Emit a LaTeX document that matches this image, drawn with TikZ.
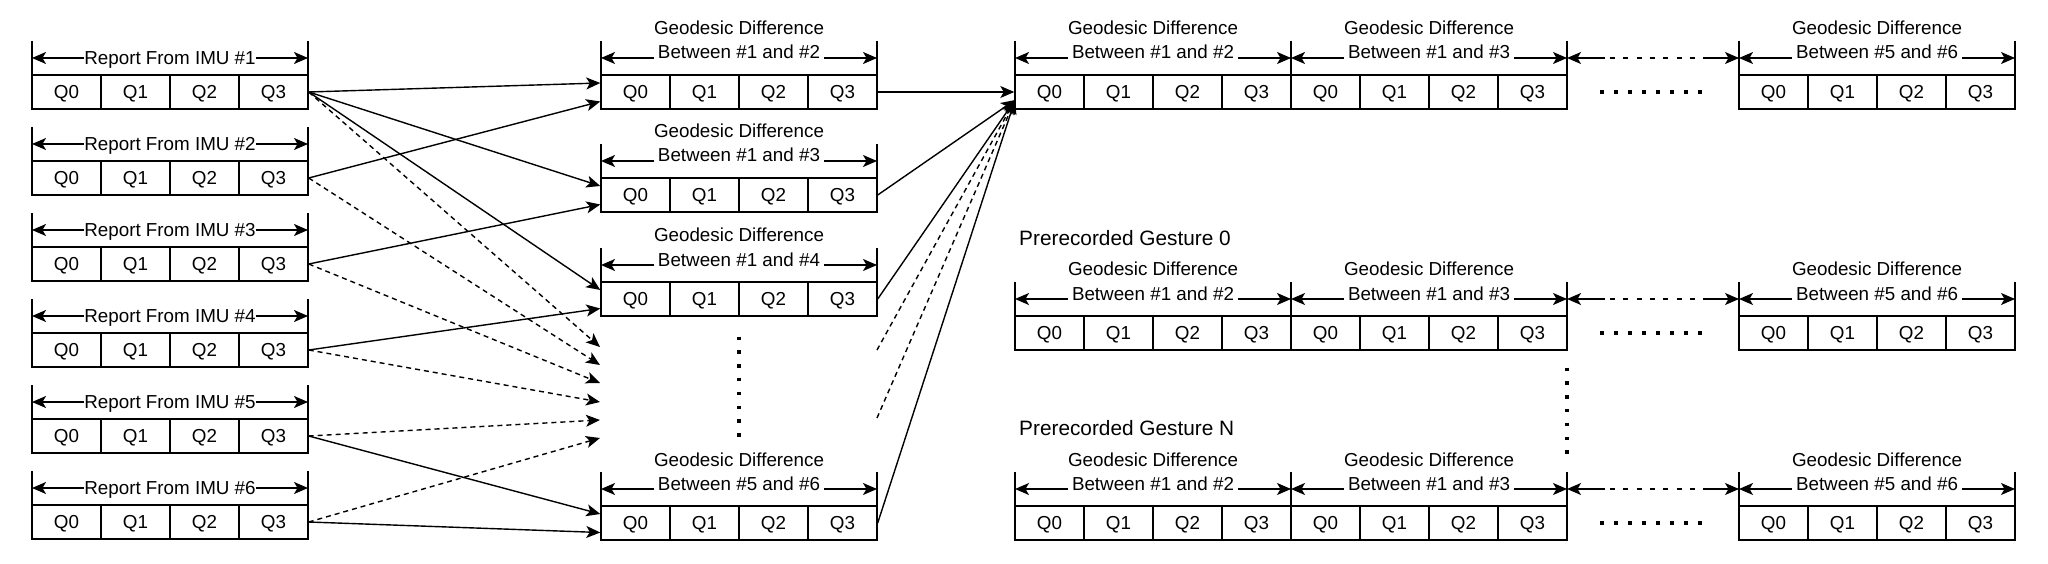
\documentclass[tikz,border=0pt]{standalone}
\usepackage{fontspec}
\setmainfont{Liberation Sans}
\usetikzlibrary{arrows.meta}
\newcommand\lblfont{\fontsize{18.8pt}{24pt}\selectfont}
\newcommand\prefont{\fontsize{20.8pt}{26pt}\selectfont}
\tikzset{
 cell/.style={draw, line width=1.4pt, minimum width=69pt, minimum height=34pt, inner sep=0pt, text height=13.5pt, text depth=0pt, font=\lblfont},
 lbl/.style={inner sep=0pt, text height=13.5pt, text depth=0pt, font=\lblfont},
 prelbl/.style={inner sep=0pt, font=\prefont},
 tickline/.style={line width=1.4pt},
 dimarrow/.style={line width=1.4pt, -{Stealth[length=14pt,width=12pt,inset=3.5pt]}},
 conn/.style={line width=1.4pt, -{Stealth[length=14pt,width=12pt,inset=3.5pt]}},
 dashconn/.style={conn, dash pattern=on 5pt off 4pt},
 dimdash/.style={line width=1.4pt, dash pattern=on 5pt off 8.3pt},
 dotrow/.style={line width=3.5pt, dash pattern=on 3.5pt off 10.5pt},
 dotcol/.style={line width=3.5pt, dash pattern=on 3.5pt off 10.3pt},
}
% cells + ticks: #1 name, #2 x left, #3 top of cells
\newcommand\cellrow[3]{%
  \foreach \k in {0,1,2,3}{\node[cell] (#1-q\k) at ({#2+34.5+69*\k},{#3+17}) {Q\k};}
  \draw[tickline] (#2,#3-34) -- (#2,#3);
  \draw[tickline] (#2+276,#3-34) -- (#2+276,#3);
  \coordinate (#1-L) at (#2,#3-17);
  \coordinate (#1-R) at (#2+276,#3-17);
}
\newcommand\imurow[4]{%
  \cellrow{#1}{#2}{#3}
  \node[lbl] (#1-lbl) at (#2+138,#3-17) {Report From IMU \##4};
  \draw[dimarrow] (#1-lbl.west) -- (#1-L);
  \draw[dimarrow] (#1-lbl.east) -- (#1-R);
}
\newcommand\georow[5]{%
  \cellrow{#1}{#2}{#3}
  \node[lbl, anchor=base] (#1-g1) at (#2+138,#3-40) {Geodesic Difference};
  \node[lbl, anchor=base] (#1-g2) at (#2+138,#3-16) {Between \##4 and \##5};
  \draw[dimarrow] (#1-g1.west |- #1-L) -- (#1-L);
  \draw[dimarrow] (#1-g1.east |- #1-R) -- (#1-R);
}
\newcommand\gesturerow[2]{%
  \georow{#1a}{1015}{#2}{1}{2}
  \georow{#1b}{1291}{#2}{1}{3}
  \georow{#1c}{1739}{#2}{5}{6}
  \draw[dimarrow] ([xshift=38pt]#1b-R) -- (#1b-R);
  \draw[dimarrow] ([xshift=-36pt]#1c-L) -- (#1c-L);
  \draw[dimdash] ([xshift=43pt]#1b-R) -- ([xshift=-38pt]#1c-L);
  \draw[dotrow] (1600.25,#2+17) -- (1703,#2+17);
}
\begin{document}
\begin{tikzpicture}[x=1pt,y=-1pt]
\path[use as bounding box] (0,0) rectangle (2048,564);

% IMU reports
\imurow{imu1}{32}{75}{1}
\imurow{imu2}{32}{161}{2}
\imurow{imu3}{32}{247}{3}
\imurow{imu4}{32}{333}{4}
\imurow{imu5}{32}{419}{5}
\imurow{imu6}{32}{505}{6}

% geodesic differences (middle)
\georow{g12}{601}{75}{1}{2}
\georow{g13}{601}{178}{1}{3}
\georow{g14}{601}{282}{1}{4}
\georow{g56}{601}{506}{5}{6}
\draw[dotcol] (739,336.5) -- (739,437);

% right rows
\gesturerow{R0}{75}
\node[prelbl, anchor=base west] (p0) at (1019,245.5) {Prerecorded Gesture 0};
\gesturerow{G0}{316}
\node[prelbl, anchor=base west] (pN) at (1019,435.5) {Prerecorded Gesture N};
\gesturerow{GN}{506}
\draw[dotcol] (1567,367.5) -- (1567,454);

% solid inputs
\draw[conn] (imu1-q3.east) -- ([yshift=9pt]g12-q0.west);
\draw[conn] (imu2-q3.east) -- ([yshift=-9.5pt]g12-q0.west);
\draw[conn] (imu1-q3.east) -- ([yshift=9pt]g13-q0.west);
\draw[conn] (imu3-q3.east) -- ([yshift=-9.5pt]g13-q0.west);
\draw[conn] (imu1-q3.east) -- ([yshift=9pt]g14-q0.west);
\draw[conn] (imu4-q3.east) -- ([yshift=-9.5pt]g14-q0.west);
\draw[conn] (imu5-q3.east) -- ([yshift=9pt]g56-q0.west);
\draw[conn] (imu6-q3.east) -- ([yshift=-9.5pt]g56-q0.west);

% dashed inputs
\coordinate (d1) at (600,347);
\coordinate (d2) at (600,365);
\coordinate (d3) at (600,383);
\coordinate (d4) at (600,402);
\coordinate (d5) at (600,420);
\coordinate (d6) at (600,438);
\draw[dashconn] (imu1-q3.east) -- (d1);
\draw[dashconn] (imu2-q3.east) -- (d2);
\draw[dashconn] (imu3-q3.east) -- (d3);
\draw[dashconn] (imu4-q3.east) -- (d4);
\draw[dashconn] (imu5-q3.east) -- (d5);
\draw[dashconn] (imu6-q3.east) -- (d6);

% to concatenated vector
\coordinate (conv) at (1015,100);
\coordinate (s1) at (877,350);
\coordinate (s2) at (877,418);
\draw[conn] (g12-q3.east) -- (R0a-q0.west);
\draw[conn] (g13-q3.east) -- (conv);
\draw[conn] (g14-q3.east) -- (conv);
\draw[conn] (g56-q3.east) -- (conv);
\draw[dashconn] (s1) -- (conv);
\draw[dashconn] (s2) -- (conv);
\end{tikzpicture}
\end{document}
